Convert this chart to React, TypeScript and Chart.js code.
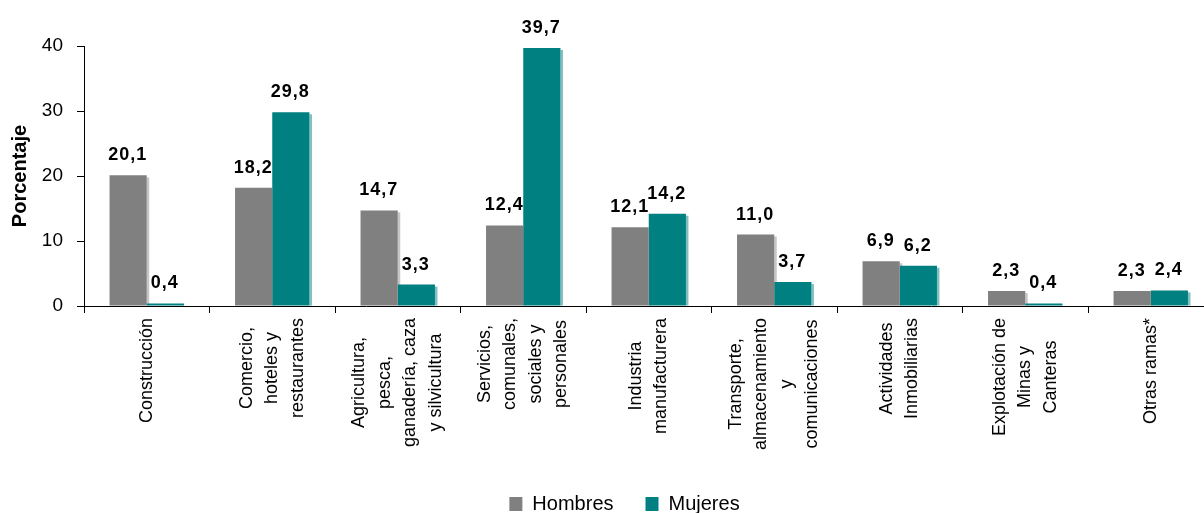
import React, { useEffect, useRef } from 'react';
import { Chart, registerables } from 'chart.js';

Chart.register(...registerables);

const FONT = "'Liberation Sans', Arial, Helvetica, sans-serif";

const categories: string[][] = [
  ['Construcción'],
  ['Comercio,', 'hoteles y', 'restaurantes'],
  ['Agricultura,', 'pesca,', 'ganadería, caza', 'y silvicultura'],
  ['Servicios,', 'comunales,', 'sociales y', 'personales'],
  ['Industria', 'manufacturera'],
  ['Transporte,', 'almacenamiento', 'y', 'comunicaciones'],
  ['Actividades', 'Inmobiliarias'],
  ['Explotación de', 'Minas y', 'Canteras'],
  ['Otras ramas*'],
];

const hombres = [20.1, 18.2, 14.7, 12.4, 12.1, 11.0, 6.9, 2.3, 2.3];
const mujeres = [0.4, 29.8, 3.3, 39.7, 14.2, 3.7, 6.2, 0.4, 2.4];

const seriesNames = ['Hombres', 'Mujeres'];
const seriesColors = ['#808080', '#008080'];
const shadeColors = ['#c6c6c6', '#80c0c0'];

const yTicks = [0, 10, 20, 30, 40];
const yTitle = 'Porcentaje';

const fmt = (v: number) => v.toFixed(1).replace('.', ',');

const barShadePlugin = {
  id: 'barShade',
  beforeDatasetsDraw(chart: any) {
    const ctx = chart.ctx;
    ctx.save();
    chart.data.datasets.forEach((_ds: any, di: number) => {
      const meta = chart.getDatasetMeta(di);
      meta.data.forEach((bar: any) => {
        const { x, y, base, width } = bar.getProps(['x', 'y', 'base', 'width'], true);
        ctx.fillStyle = shadeColors[di];
        const h = base - y - 2;
        if (h > 0) ctx.fillRect(x + width / 2, y + 2, 2.5, h);
      });
    });
    ctx.restore();
  },
};

const valueLabelPlugin = {
  id: 'valueLabels',
  afterDatasetsDraw(chart: any) {
    const ctx = chart.ctx;
    ctx.save();
    ctx.font = `bold 18px ${FONT}`;
    try {
      (ctx as any).letterSpacing = '1px';
    } catch (e) {
      /* ignore */
    }
    ctx.fillStyle = '#000';
    ctx.textAlign = 'center';
    ctx.textBaseline = 'alphabetic';
    chart.data.datasets.forEach((ds: any, di: number) => {
      const meta = chart.getDatasetMeta(di);
      meta.data.forEach((bar: any, i: number) => {
        const { x, y } = bar.getProps(['x', 'y'], true);
        ctx.fillText(fmt(ds.data[i]), x - 0.5, y - 15);
      });
    });
    ctx.restore();
  },
};

const xLabelPlugin = {
  id: 'xLabels',
  afterDraw(chart: any) {
    const ctx = chart.ctx;
    const xs = chart.scales.x;
    ctx.save();
    ctx.font = `18px ${FONT}`;
    ctx.fillStyle = '#000';
    ctx.textAlign = 'center';
    ctx.textBaseline = 'middle';
    const lh = 25.5;
    categories.forEach((lines, i) => {
      const cx = xs.getPixelForValue(i);
      const maxW = Math.max(...lines.map((l) => ctx.measureText(l).width));
      const cy = xs.top + 12 + maxW / 2;
      ctx.save();
      ctx.translate(cx, cy);
      ctx.rotate(-Math.PI / 2);
      lines.forEach((l, j) => {
        ctx.fillText(l, 0, (j - (lines.length - 1) / 2) * lh);
      });
      ctx.restore();
    });
    ctx.restore();
  },
};

export default function App() {
  const ref = useRef<HTMLCanvasElement | null>(null);

  useEffect(() => {
    if (!ref.current) return;
    const chart = new Chart(ref.current, {
      type: 'bar',
      data: {
        labels: categories.map((c) => c.join(' ')),
        datasets: [
          {
            label: seriesNames[0],
            data: hombres,
            backgroundColor: seriesColors[0],
            borderWidth: 0,
            barPercentage: 1,
            categoryPercentage: 0.593,
          },
          {
            label: seriesNames[1],
            data: mujeres,
            backgroundColor: seriesColors[1],
            borderWidth: 0,
            barPercentage: 1,
            categoryPercentage: 0.593,
          },
        ],
      },
      options: {
        responsive: false,
        animation: false,
        events: [],
        layout: { padding: { left: 35.5, right: 6.5, top: 46, bottom: 0 } },
        plugins: {
          legend: {
            display: true,
            position: 'bottom',
            labels: {
              boxWidth: 13,
              boxHeight: 14,
              padding: 32,
              color: '#000',
              font: { family: FONT, size: 20 },
            },
          },
          tooltip: { enabled: false },
          title: { display: false },
        },
        scales: {
          x: {
            type: 'category',
            offset: true,
            grid: {
              display: true,
              offset: true,
              drawOnChartArea: false,
              drawTicks: true,
              tickLength: 7,
              color: '#000',
            },
            border: { display: true, color: '#000', width: 1 },
            ticks: { display: false },
            afterFit: (s: any) => {
              s.height = 156;
            },
          },
          y: {
            min: 0,
            max: 40,
            grid: {
              display: true,
              drawOnChartArea: false,
              drawTicks: true,
              tickLength: 7,
              color: '#000',
            },
            border: { display: true, color: '#000', width: 1 },
            ticks: {
              color: '#000',
              padding: 14,
              font: { family: FONT, size: 19 },
            },
            afterBuildTicks: (s: any) => {
              s.ticks = yTicks.map((v) => ({ value: v }));
            },
            title: {
              display: true,
              text: yTitle,
              color: '#000',
              font: { family: FONT, size: 20, weight: 'bold' },
              padding: { top: -27, bottom: 0 },
            },
            afterFit: (s: any) => {
              s.width = 48.5;
            },
          },
        },
      } as any,
      plugins: [barShadePlugin, valueLabelPlugin, xLabelPlugin],
    });
    return () => chart.destroy();
  }, []);

  return (
    <div
      style={{
        position: 'absolute',
        left: 0,
        top: 0,
        width: 1204,
        height: 513,
        overflow: 'hidden',
        background: '#fff',
      }}
    >
      <canvas ref={ref} width={1220} height={524} style={{ display: 'block' }} />
    </div>
  );
}
